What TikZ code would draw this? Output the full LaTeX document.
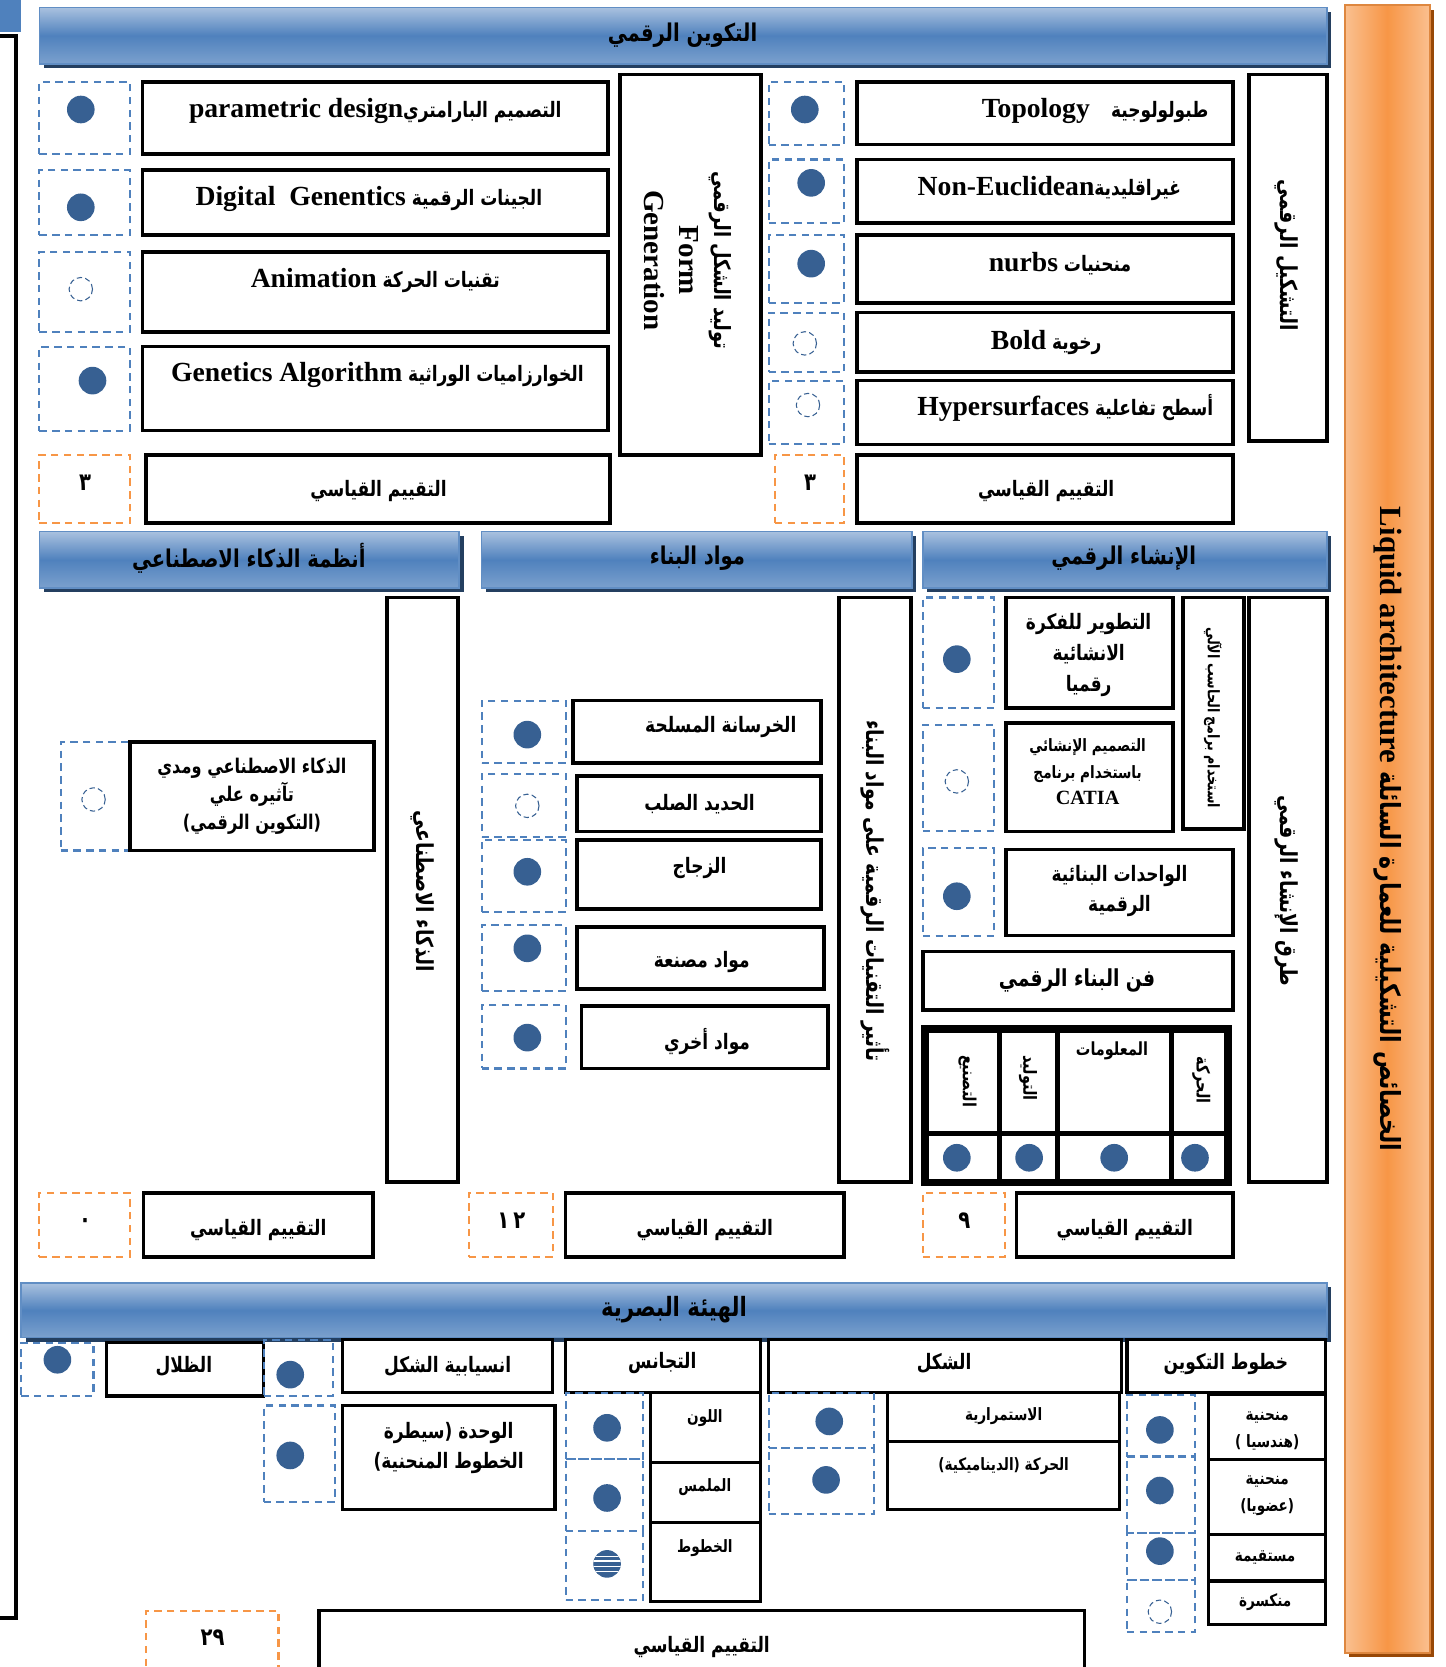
\documentclass[tikz,border=0pt]{standalone}
\usepackage{fontspec}
\setmainfont{Liberation Serif}
\newfontfamily\arfont[Script=Arabic, FakeStretch=0.8]{DejaVu Sans}
\newfontfamily\lafont[Scale=1.3]{Liberation Serif}
\TeXXeTstate=1
\usetikzlibrary{fit,shadows}

\definecolor{hdrlight}{HTML}{A9C1DF}
\definecolor{hdrmid}{HTML}{4F81BD}
\definecolor{hdrdark}{HTML}{243F60}
\definecolor{dotblue}{HTML}{376092}
\definecolor{dashblue}{HTML}{4F81BD}
\definecolor{dashorange}{HTML}{F79646}
\definecolor{orlight}{HTML}{FAC090}
\definecolor{ormid}{HTML}{F79646}
\definecolor{ordark}{HTML}{984807}

\newcommand{\AR}[1]{{\arfont\bfseries\beginR #1\endR}}
\newcommand{\LA}[1]{\beginL{\lafont\bfseries #1}\endL}

\begin{document}
\begin{tikzpicture}[x=1pt, y=-1pt,
  hdr/.style={draw=hdrmid!90!white, line width=1.5pt, top color=hdrlight,
    bottom color=hdrmid!75!white, middle color=hdrmid, inner sep=0pt,
    drop shadow={shadow xshift=4pt, shadow yshift=-4pt, fill=hdrdark, opacity=1}},
  blk/.style={draw, line width=3.5pt, fill=white, inner sep=0pt},
  thin/.style={draw, line width=3pt, fill=white, inner sep=0pt},
  dbox/.style={draw=dashblue, line width=2pt, dash pattern=on 7pt off 5pt, inner sep=0pt},
  obox/.style={draw=dashorange, line width=2pt, dash pattern=on 7pt off 5pt, inner sep=0pt},
  tx/.style={align=center, inner sep=0pt, font=\fontsize{20}{25}\selectfont},
  num/.style={inner sep=0pt, font=\fontsize{23}{26}\selectfont},
  htx/.style={inner sep=0pt, font=\fontsize{23}{27}\selectfont},
  vtext/.style={rotate=-90, align=center, inner sep=0pt, font=\fontsize{22}{26}\selectfont},
  small/.style={font=\fontsize{16}{25}\selectfont},
  dot/.style={circle, fill=dotblue, minimum size=26pt, inner sep=0pt},
  ring/.style={circle, draw=dotblue, line width=1pt, dash pattern=on 5pt off 3pt,
    minimum size=22pt, inner sep=0pt}
]
\useasboundingbox (0,0) rectangle (1360,1568);

% left edge
\fill[hdrmid] (0,0) rectangle (20,30);
\draw[line width=4pt] (0,34) -- (15,34) -- (15,1522) -- (0,1522);

% side bar
\node[fit={(1265,5)(1345,1555)}, draw=ormid!90!black, line width=2pt, inner sep=0pt,
  left color=orlight, right color=orlight, middle color=ormid,
  drop shadow={shadow xshift=4pt, shadow yshift=-4pt, fill=ordark, opacity=1}] (side) {};
\node[rotate=-90, inner sep=0pt, font=\fontsize{26}{30}\selectfont] (sidetxt) at (1305,780)
  {\AR{الخصائص التشكيلية للعمارة السائلة {\rmfamily\bfseries\fontsize{29}{34}\selectfont\beginL Liquid architecture\endL}}};

% ===== التكوين الرقمي =====
\node[hdr, fit={(37,7)(1248,60)}] (hTop) {};
\node[htx] (hTopt) at (642,33) {\AR{التكوين الرقمي}};

\node[dbox, fit={(37,77)(122,145)}] (d11) {};
\node[dbox, fit={(37,160)(122,221)}] (d12) {};
\node[dbox, fit={(37,237)(122,312)}] (d13) {};
\node[dbox, fit={(37,326)(122,405)}] (d14) {};
\node[obox, fit={(37,428)(122,492)}] (o11) {};
\node[num] (o11t) at (80,454) {\AR{٣}};
\node[dot] (p11) at (76,103) {};
\node[dot] (p12) at (76,195) {};
\node[ring] (p13) at (76,272) {};
\node[dot] (p14) at (87,358) {};

\node[blk, fit={(134,77)(572,145)}] (b11) {};
\node[blk, fit={(134,160)(572,221)}] (b12) {};
\node[blk, fit={(134,237)(572,312)}] (b13) {};
\node[blk, fit={(134,326)(572,405)}] (b14) {};
\node[blk, fit={(137,428)(574,492)}] (s11) {};
\node[tx] (b11t) at (353,104) {\AR{التصميم البارامتري\LA{parametric design}}};
\node[tx] (b12t) at (347,187) {\AR{الجينات الرقمية \LA{Digital\ \ Genentics}}};
\node[tx] (b13t) at (353,264) {\AR{تقنيات الحركة \LA{Animation}}};
\node[tx] (b14t) at (355,353) {\AR{الخوارزاميات الوراثية \LA{Genetics Algorithm}}};
\node[tx] (s11t) at (356,462) {\AR{التقييم القياسي}};

\node[blk, fit={(583,70)(716,428)}] (v11) {};
\node[vtext, font=\fontsize{21}{33}\selectfont] (v11t) at (647,245)
  {\AR{توليد الشكل الرقمي}\\\LA{\fontsize{21}{33}\selectfont Form}\\\LA{\fontsize{21}{33}\selectfont Generation}};

\node[dbox, fit={(723,77)(794,136)}] (d21) {};
\node[dbox, fit={(723,150)(794,210)}] (d22) {};
\node[dbox, fit={(723,221)(794,285)}] (d23) {};
\node[dbox, fit={(723,294)(794,350)}] (d24) {};
\node[dbox, fit={(723,358)(794,418)}] (d25) {};
\node[obox, fit={(729,428)(794,492)}] (o21) {};
\node[num] (o21t) at (762,454) {\AR{٣}};
\node[dot] (p21) at (757,103) {};
\node[dot] (p22) at (763,172) {};
\node[dot] (p23) at (763,248) {};
\node[ring] (p24) at (757,323) {};
\node[ring] (p25) at (760,381) {};

\node[blk, fit={(806,77)(1160,136)}] (b21) {};
\node[blk, fit={(806,150)(1160,210)}] (b22) {};
\node[blk, fit={(806,221)(1160,285)}] (b23) {};
\node[blk, fit={(806,294)(1160,350)}] (b24) {};
\node[blk, fit={(806,358)(1160,418)}] (b25) {};
\node[blk, fit={(806,428)(1160,492)}] (s21) {};
\node[tx] (b21t) at (1030,104) {\AR{طبولولوجية\quad\LA{Topology}}};
\node[tx] (b22t) at (987,177) {\AR{غيراقليدية\LA{Non-Euclidean}}};
\node[tx] (b23t) at (997,248) {\AR{منحنيات \LA{nurbs}}};
\node[tx] (b24t) at (984,322) {\AR{رخوية \LA{Bold}}};
\node[tx] (b25t) at (1002,384) {\AR{أسطح تفاعلية \LA{Hypersurfaces}}};
\node[tx] (s21t) at (984,462) {\AR{التقييم القياسي}};

\node[blk, fit={(1175,70)(1248,415)}] (v21) {};
\node[vtext] (v21t) at (1210,240) {\AR{التشكيل الرقمي}};

% ===== headers middle row =====
\node[hdr, fit={(37,500)(432,553)}] (hAI) {};
\node[hdr, fit={(453,500)(858,553)}] (hMat) {};
\node[hdr, fit={(868,500)(1248,553)}] (hCon) {};
\node[htx] (hAIt) at (234,525) {\AR{أنظمة الذكاء الاصطناعي}};
\node[htx] (hMatt) at (656,525) {\AR{مواد البناء}};
\node[htx] (hCont) at (1057,525) {\AR{الإنشاء الرقمي}};

% ===== أنظمة الذكاء الاصطناعي =====
\node[blk, fit={(364,562)(431,1112)}] (v31) {};
\node[vtext] (v31t) at (397,838) {\AR{الذكاء الاصطناعي}};
\node[dbox, fit={(57,698)(122,800)}] (d31) {};
\node[ring] (p31) at (88,752) {};
\node[blk, fit={(122,698)(352,800)}] (b31) {};
\node[tx, font=\fontsize{19}{26}\selectfont] (b31t) at (237,749)
  {\AR{الذكاء الاصطناعي ومدي}\\\AR{تآثيره علي}\\\AR{(التكوين الرقمي)}};
\node[obox, fit={(37,1122)(122,1182)}] (o31) {};
\node[num] (o31t) at (80,1150) {\AR{٠}};
\node[blk, fit={(135,1122)(351,1182)}] (s31) {};
\node[tx] (s31t) at (243,1157) {\AR{التقييم القياسي}};

% ===== مواد البناء =====
\node[blk, fit={(789,562)(857,1112)}] (v41) {};
\node[vtext] (v41t) at (823,838) {\AR{تأثير التقنيات الرقمية على مواد البناء}};
\node[dbox, fit={(453,659)(532,718)}] (d41) {};
\node[dbox, fit={(453,728)(532,787)}] (d42) {};
\node[dbox, fit={(453,790)(532,858)}] (d43) {};
\node[dbox, fit={(453,870)(532,932)}] (d44) {};
\node[dbox, fit={(453,945)(532,1005)}] (d45) {};
\node[dot] (p41) at (496,691) {};
\node[ring] (p42) at (496,758) {};
\node[dot] (p43) at (496,820) {};
\node[dot] (p44) at (496,892) {};
\node[dot] (p45) at (496,976) {};
\node[blk, fit={(539,659)(772,718)}] (b41) {};
\node[blk, fit={(543,730)(772,782)}] (b42) {};
\node[blk, fit={(543,790)(772,855)}] (b43) {};
\node[blk, fit={(543,872)(775,930)}] (b44) {};
\node[blk, fit={(547,946)(779,1005)}] (b45) {};
\node[tx] (b41t) at (678,684) {\AR{الخرسانة المسلحة}};
\node[tx] (b42t) at (658,756) {\AR{الحديد الصلب}};
\node[tx] (b43t) at (658,816) {\AR{الزجاج}};
\node[tx] (b44t) at (660,905) {\AR{مواد مصنعة}};
\node[tx] (b45t) at (665,980) {\AR{مواد أخري}};
\node[obox, fit={(441,1122)(520,1182)}] (o41) {};
\node[num] (o41t) at (481,1148) {{\arfont\bfseries ١\,٢}};
\node[blk, fit={(532,1122)(794,1182)}] (s41) {};
\node[tx] (s41t) at (663,1157) {\AR{التقييم القياسي}};

% ===== الإنشاء الرقمي =====
\node[blk, fit={(1175,562)(1248,1112)}] (v51) {};
\node[vtext] (v51t) at (1210,838) {\AR{طرق الإنشاء الرقمي}};
\node[blk, fit={(1113,562)(1170,780)}] (v52) {};
\node[vtext, font=\fontsize{15}{17}\selectfont] (v52t) at (1141,675) {\AR{استخدام برامج الحاسب الآلي}};
\node[dbox, fit={(868,562)(935,666)}] (d51) {};
\node[dbox, fit={(868,682)(935,782)}] (d52) {};
\node[dbox, fit={(868,798)(935,880)}] (d53) {};
\node[dot] (p51) at (900,620) {};
\node[ring] (p52) at (900,735) {};
\node[dot] (p53) at (900,843) {};
\node[blk, fit={(946,562)(1103,666)}] (b51) {};
\node[blk, fit={(946,680)(1103,782)}] (b52) {};
\node[blk, fit={(946,799)(1160,880)}] (b53) {};
\node[blk, fit={(868,895)(1160,950)}] (b54) {};
\node[tx, font=\fontsize{20}{29}\selectfont] (b51t) at (1024,616)
  {\AR{التطوير للفكرة}\\\AR{الانشائية}\\\AR{رقميا}};
\node[tx, font=\fontsize{16}{25}\selectfont] (b52t) at (1023,726)
  {\AR{التصميم الإنشائي}\\\AR{باستخدام برنامج}\\\beginL{\bfseries\fontsize{19}{25}\selectfont CATIA}\endL};
\node[tx, font=\fontsize{20}{28}\selectfont] (b53t) at (1053,838)
  {\AR{الواحدات البنائية}\\\AR{الرقمية}};
\node[tx, font=\fontsize{22}{25}\selectfont] (b54t) at (1013,922) {\AR{فن البناء الرقمي}};

% table
\node[thin, line width=5pt, fit={(870,968)(940,1066)}] (tc1) {};
\node[thin, line width=5pt, fit={(940,968)(995,1066)}] (tc2) {};
\node[thin, line width=5pt, fit={(995,968)(1102,1066)}] (tc3) {};
\node[thin, line width=5pt, fit={(1102,968)(1155,1066)}] (tc4) {};
\node[thin, line width=5pt, fit={(870,1066)(940,1112)}] (tr1) {};
\node[thin, line width=5pt, fit={(940,1066)(995,1112)}] (tr2) {};
\node[thin, line width=5pt, fit={(995,1066)(1102,1112)}] (tr3) {};
\node[thin, line width=5pt, fit={(1102,1066)(1155,1112)}] (tr4) {};
\node[draw, line width=7pt, inner sep=0pt, fit={(870,968)(1155,1112)}] (tbl) {};
\node[vtext, font=\fontsize{17}{18}\selectfont] (tc1t) at (910,1017) {\AR{التصنيع}};
\node[vtext, font=\fontsize{17}{18}\selectfont] (tc2t) at (967,1014) {\AR{التوليد}};
\node[tx, font=\fontsize{17}{18}\selectfont] (tc3t) at (1046,988) {\AR{المعلومات}};
\node[vtext, font=\fontsize{17}{18}\selectfont] (tc4t) at (1130,1016) {\AR{الحركة}};
\node[dot] (p54) at (900,1089) {};
\node[dot] (p55) at (968,1089) {};
\node[dot] (p56) at (1048,1089) {};
\node[dot] (p57) at (1124,1089) {};

\node[obox, fit={(868,1122)(945,1182)}] (o51) {};
\node[num] (o51t) at (907,1148) {\AR{٩}};
\node[blk, fit={(956,1122)(1160,1182)}] (s51) {};
\node[tx] (s51t) at (1058,1157) {\AR{التقييم القياسي}};

% ===== الهيئة البصرية =====
\node[hdr, fit={(20,1207)(1248,1258)}] (hVis) {};
\node[htx, font=\fontsize{25}{28}\selectfont] (hVist) at (634,1232) {\AR{الهيئة البصرية}};

% خطوط التكوين
\node[thin, fit={(1060,1260)(1247,1310)}] (c61) {};
\node[thin, fit={(1137,1312)(1247,1373)}] (b61) {};
\node[thin, fit={(1137,1373)(1247,1443)}] (b62) {};
\node[thin, fit={(1137,1443)(1247,1487)}] (b63) {};
\node[thin, fit={(1137,1487)(1247,1528)}] (b64) {};
\node[tx] (c61t) at (1153,1283) {\AR{خطوط التكوين}};
\node[tx, small] (b61t) at (1192,1346) {\AR{منحنية}\\\AR{(هندسيا )}};
\node[tx, small] (b62t) at (1192,1407) {\AR{منحنية}\\\AR{(عضويا)}};
\node[tx, small] (b63t) at (1190,1465) {\AR{مستقيمة}};
\node[tx, small] (b64t) at (1190,1507) {\AR{منكسرة}};
\node[dbox, fit={(1060,1312)(1124,1370)}] (d61) {};
\node[dbox, fit={(1060,1370)(1124,1442)}] (d62) {};
\node[dbox, fit={(1060,1442)(1124,1486)}] (d63) {};
\node[dbox, fit={(1060,1486)(1124,1535)}] (d64) {};
\node[dot] (p61) at (1091,1345) {};
\node[dot] (p62) at (1091,1402) {};
\node[dot] (p63) at (1091,1459) {};
\node[ring] (p64) at (1091,1516) {};

% الشكل
\node[thin, fit={(723,1260)(1055,1310)}] (c71) {};
\node[thin, fit={(835,1310)(1053,1356)}] (b71) {};
\node[thin, fit={(835,1356)(1053,1420)}] (b72) {};
\node[tx] (c71t) at (888,1282) {\AR{الشكل}};
\node[tx, small] (b71t) at (944,1332) {\AR{الاستمرارية}};
\node[tx, small] (b72t) at (944,1379) {\AR{الحركة (الديناميكية)}};
\node[dbox, fit={(723,1310)(822,1362)}] (d71) {};
\node[dbox, fit={(723,1362)(822,1424)}] (d72) {};
\node[dot] (p71) at (780,1337) {};
\node[dot] (p72) at (777,1392) {};

% التجانس
\node[thin, fit={(532,1260)(715,1310)}] (c81) {};
\node[thin, fit={(612,1310)(715,1376)}] (b81) {};
\node[thin, fit={(612,1376)(715,1432)}] (b82) {};
\node[thin, fit={(612,1432)(715,1506)}] (b83) {};
\node[tx] (c81t) at (623,1282) {\AR{التجانس}};
\node[tx, small] (b81t) at (663,1334) {\AR{اللون}};
\node[tx, small] (b82t) at (663,1399) {\AR{الملمس}};
\node[tx, small] (b83t) at (663,1456) {\AR{الخطوط}};
\node[dbox, fit={(532,1310)(605,1372)}] (d81) {};
\node[dbox, fit={(532,1372)(605,1440)}] (d82) {};
\node[dbox, fit={(532,1440)(605,1505)}] (d83) {};
\node[dot] (p81) at (571,1343) {};
\node[dot] (p82) at (571,1409) {};
\node[dot, path picture={
    \foreach \k in {-7,-2.5,2.5,7}
      \draw[white, line width=1.4pt] ([yshift=\k pt]path picture bounding box.west) -- ++(30,0);
  }] (p83) at (571,1471) {};

% انسيابية الشكل / الوحدة / الظلال
\node[thin, fit={(322,1260)(520,1310)}] (b91) {};
\node[thin, fit={(322,1322)(522,1420)}] (b92) {};
\node[thin, fit={(100,1263)(248,1313)}] (b93) {};
\node[tx] (b91t) at (421,1285) {\AR{انسيابية الشكل}};
\node[tx, font=\fontsize{20}{28}\selectfont] (b92t) at (422,1362) {\AR{الوحدة (سيطرة}\\\AR{الخطوط المنحنية)}};
\node[tx] (b93t) at (173,1285) {\AR{الظلال}};
\node[dbox, fit={(248,1260)(313,1313)}] (d91) {};
\node[dbox, fit={(248,1322)(315,1413)}] (d92) {};
\node[dbox, fit={(20,1263)(88,1313)}] (d93) {};
\node[dot] (p91) at (273,1293) {};
\node[dot] (p92) at (273,1369) {};
\node[dot] (p93) at (54,1279) {};

% score
\node[obox, fit={(137,1515)(262,1580)}] (o91) {};
\node[num] (o91t) at (200,1540) {{\arfont\bfseries ٢٩}};
\node[thin, fit={(300,1515)(1020,1580)}] (s91) {};
\node[tx] (s91t) at (660,1549) {\AR{التقييم القياسي}};
\end{tikzpicture}
\end{document}
